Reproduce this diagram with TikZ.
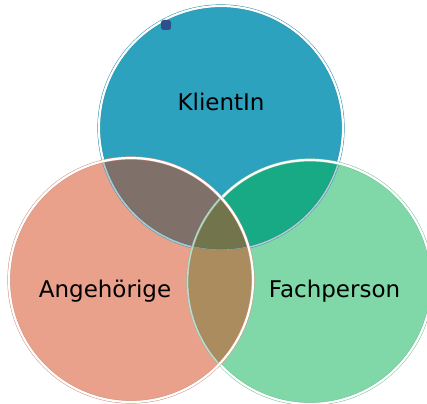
\documentclass[tikz,border=0pt]{standalone}
\usepackage{fontspec}
\setmainfont{DejaVu Sans}
\usepackage{tikz}

\definecolor{klientcol}{HTML}{2DA2BF}
\definecolor{angehcol}{HTML}{E9A18B}
\definecolor{fachcol}{HTML}{80D7A8}
\definecolor{kacol}{HTML}{7F7169}
\definecolor{kfcol}{HTML}{18A985}
\definecolor{afcol}{HTML}{AA8C5E}
\definecolor{allcol}{HTML}{72744C}
\definecolor{markcol}{HTML}{2E4F8A}

\begin{document}
\begin{tikzpicture}[x=1pt,y=-1pt,
	ring/.style={line width=0.5pt,double=white,double distance=2.2pt},
	faint/.style={line width=0.4pt,double=white,double distance=1.2pt,draw opacity=0.4},
	label/.style={font=\fontsize{23}{28}\selectfont,anchor=base,inner sep=0pt},
	]
	\useasboundingbox (0,0) rectangle (427,403);
	\def\rad{122pt}
	\coordinate (klient) at (221,128);
	\coordinate (angeh) at (131,280);
	\coordinate (fach) at (310,282);

	% circles
	\fill[klientcol] (klient) circle (\rad);
	\fill[fachcol] (fach) circle (\rad);
	\fill[angehcol] (angeh) circle (\rad);
	\draw[ring,draw=klientcol!90!black] (klient) circle (\rad);

	% overlaps with the top circle
	\begin{scope}
		\clip (klient) circle (\rad);
		\fill[kacol] (angeh) circle (\rad);
		\fill[kfcol] (fach) circle (\rad);
		\clip (angeh) circle (\rad);
		\fill[allcol] (fach) circle (\rad);
	\end{scope}
	\begin{scope}
		\clip (angeh) circle (\rad);
		\draw[faint,draw=klientcol!60!black] (klient) circle (\rad);
	\end{scope}
	\begin{scope}
		\clip (fach) circle (\rad);
		\draw[faint,draw=klientcol!60!black] (klient) circle (\rad);
	\end{scope}
	\draw[ring,draw=fachcol!90!black] (fach) circle (\rad);

	% overlap left and right
	\begin{scope}
		\clip (angeh) circle (\rad);
		\fill[afcol] (fach) circle (\rad);
		\begin{scope}
			\clip (klient) circle (\rad);
			\fill[allcol] (fach) circle (\rad);
			\draw[faint,draw=klientcol!60!black] (klient) circle (\rad);
		\end{scope}
		\draw[faint,draw=fachcol!60!black] (fach) circle (\rad);
	\end{scope}
	\draw[ring,draw=angehcol!90!black] (angeh) circle (\rad);

	\node[fill=markcol,rounded corners=2.5pt,minimum size=10pt,inner sep=0pt] (mark) at (166,25) {};

	\node[label] (klientlbl) at (221,111) {KlientIn};
	\node[label] (angehlbl) at (105,297) {Angehörige};
	\node[label] (fachlbl) at (334.5,297) {Fachperson};
\end{tikzpicture}
\end{document}
